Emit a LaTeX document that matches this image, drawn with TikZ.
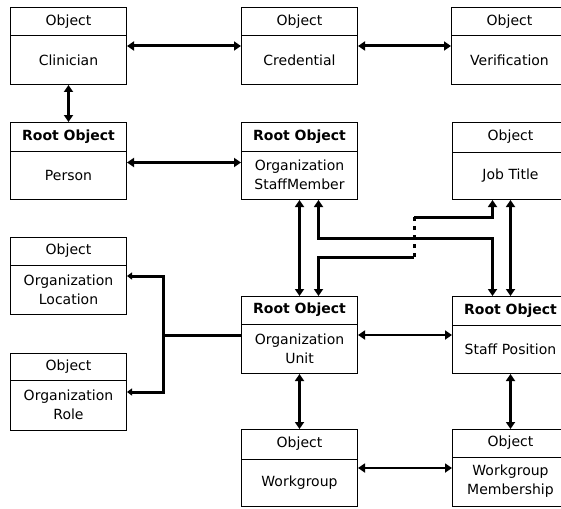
\documentclass[tikz,border=0pt]{standalone}
\usepackage{fontspec}
\setmainfont{DejaVu Sans}
\usetikzlibrary{arrows.meta}

\tikzset{
  objframe/.style={draw, line width=1pt, minimum width=116pt, minimum height=77pt,
                   inner sep=0pt, anchor=north west},
  hdrtext/.style={font=\fontsize{14}{16}\selectfont, inner sep=0pt},
  roottext/.style={font=\fontsize{14}{16}\selectfont\bfseries, inner sep=0pt},
  bodytext/.style={font=\fontsize{14}{19}\selectfont, inner sep=0pt, align=center},
  link/.style={line width=3pt},
  thinlink/.style={line width=2.2pt},
  tip/.tip={Triangle[length=7pt,width=9pt]},
  smalltip/.tip={Triangle[length=5pt,width=7pt]},
  biarrow/.style={link, tip-tip},
  thinbiarrow/.style={thinlink, tip-tip},
}

% box with a title compartment on top and a name compartment below
% #1 name, #2 left, #3 top, #4 title style, #5 title, #6 name text, #7 title height
\newcommand\objbox[7]{%
  \node[objframe] (#1) at (#2,#3) {};
  \draw[line width=1pt] ([yshift=-#7pt]#1.north west) -- ([yshift=-#7pt]#1.north east);
  \node[#4] (#1-head) at ([yshift={-#7/2}]#1.north) {#5};
  \node[bodytext] (#1-body) at ([yshift={-(#7+77)/2}]#1.north) {#6};
}

\begin{document}
\begin{tikzpicture}[x=1pt, y=-1pt]
  \useasboundingbox (0,0) rectangle (561,508);
  \clip (0,0) rectangle (561,508);

  % boxes
  \objbox{cli}{10}{7}{hdrtext}{Object}{Clinician}{29}
  \objbox{cred}{241}{7}{hdrtext}{Object}{Credential}{29}
  \objbox{ver}{451}{7}{hdrtext}{Object}{Verification}{29}
  \objbox{per}{10}{122}{roottext}{Root Object}{Person}{29}
  \objbox{osm}{241}{122}{roottext}{Root Object}{Organization\\StaffMember}{29}
  \objbox{job}{452}{122}{hdrtext}{Object}{Job Title}{30}
  \objbox{loc}{10}{237}{hdrtext}{Object}{Organization\\Location}{28}
  \objbox{role}{10}{353}{hdrtext}{Object}{Organization\\Role}{27}
  \objbox{unit}{241}{296}{roottext}{Root Object}{Organization\\Unit}{28}
  \objbox{spos}{452}{296}{roottext}{Root Object}{Staff Position}{29}
  \objbox{wg}{241}{429}{hdrtext}{Object}{Workgroup}{30}
  \objbox{wgm}{452}{429}{hdrtext}{Object}{Workgroup\\Membership}{28}

  % junction and crossing points
  \path (unit.west) ++(-78,0) coordinate (fork);
  \coordinate (jp1) at (414,257);
  \coordinate (jp2) at (414,217);

  % associations
  \draw[biarrow] (cli.east) -- (cred.west);
  \draw[biarrow] (cred.east) -- (ver.west);
  \draw[biarrow] (cli.south) -- (per.north);
  \draw[biarrow] ([yshift=-1.5pt]per.east) -- ([yshift=-1.5pt]osm.west);
  \draw[thinbiarrow] (osm.south) -- (unit.north);
  \draw[biarrow] ([xshift=19pt]osm.south) -- ++(0,38) -| ([xshift=-18pt]spos.north);
  \draw[link, tip-] ([xshift=19pt]unit.north) |- (jp1);
  \draw[link, dash pattern=on 4pt off 5pt] (jp1) -- (jp2);
  \draw[link, -tip] (jp2) -| ([xshift=-18pt]job.south);
  \draw[biarrow] (job.south) -- (spos.north);
  \draw[link] (unit.west) -- (fork);
  \draw[link, -smalltip] (fork) |- (loc.east);
  \draw[link, -smalltip] (fork) |- (role.east);
  \draw[thinbiarrow] (unit.east) -- (spos.west);
  \draw[biarrow] (unit.south) -- (wg.north);
  \draw[biarrow] (spos.south) -- (wgm.north);
  \draw[thinbiarrow] (wg.east) -- (wgm.west);
\end{tikzpicture}
\end{document}
